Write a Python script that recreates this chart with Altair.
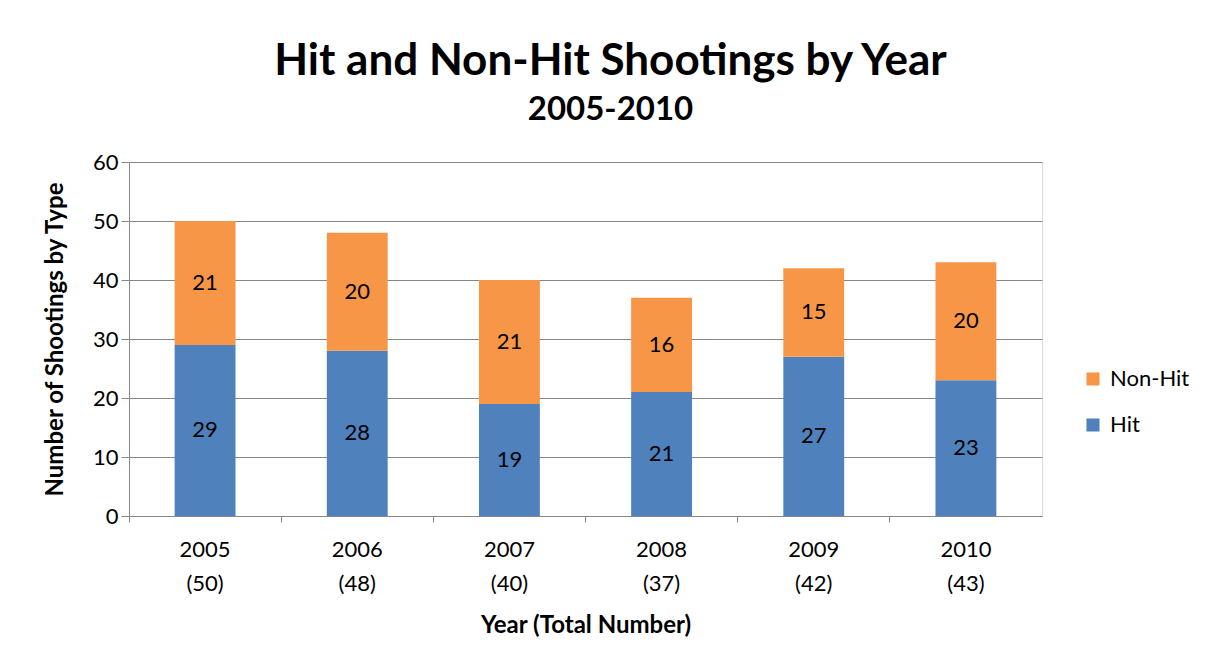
import altair as alt
import pandas as pd

years = ["2005", "2006", "2007", "2008", "2009", "2010"]
totals = [50, 48, 40, 37, 42, 43]
hit = [29, 28, 19, 21, 27, 23]
non_hit = [21, 20, 21, 16, 15, 20]
series = ["Non-Hit", "Hit"]
colors = ["#F79646", "#4F81BD"]

rows = []
for y, t, h, n in zip(years, totals, hit, non_hit):
    lab = f"{y} ({t})"
    rows.append({"year": lab, "type": "Hit", "value": h, "ord": 0})
    rows.append({"year": lab, "type": "Non-Hit", "value": n, "ord": 1})
df = pd.DataFrame(rows)

FONT = "Lato"
x_order = [f"{y} ({t})" for y, t in zip(years, totals)]

base = alt.Chart(df)

xenc = alt.X(
    "year:N",
    sort=x_order,
    scale=alt.Scale(paddingInner=0, paddingOuter=0),
    axis=alt.Axis(
        title="Year (Total Number)",
        labelExpr="split(datum.value, ' ')",
        labelAngle=0,
        bandPosition=0,
        labelFontSize=22,
        labelFont=FONT,
        labelColor="#000000",
        labelPadding=17,
        labelLineHeight=34,
        tickSize=6,
        tickColor="#868686",
        domainColor="#868686",
        titleFontSize=24,
        titleFont=FONT,
        titleFontWeight="bold",
        titleColor="#000000",
        titlePadding=19,
    ),
)

bars = base.mark_bar(width={"band": 0.4}).encode(
    x=xenc,
    y=alt.Y(
        "value:Q",
        stack="zero",
        scale=alt.Scale(domain=[0, 60]),
        axis=alt.Axis(
            title="Number of Shootings by Type",
            values=[0, 10, 20, 30, 40, 50, 60],
            labelFontSize=22,
            labelFont=FONT,
            labelColor="#000000",
            labelPadding=3,
            tickSize=8,
            tickColor="#868686",
            domainColor="#868686",
            gridColor="#868686",
            titleFontSize=24,
            titleFont=FONT,
            titleFontWeight="bold",
            titleColor="#000000",
            titlePadding=25,
        ),
    ),
    color=alt.Color(
        "type:N",
        scale=alt.Scale(domain=series, range=colors),
        legend=alt.Legend(
            title=None,
            orient="none",
            legendX=953,
            legendY=206,
            symbolType="square",
            symbolSize=170,
            symbolStrokeWidth=0,
            labelFontSize=22,
            labelFont=FONT,
            labelColor="#000000",
            rowPadding=24,
            labelOffset=6,
        ),
    ),
    order=alt.Order("ord:Q"),
)

labels = (
    base.transform_window(
        cum="sum(value)", groupby=["year"], sort=[alt.SortField("ord")], frame=[None, 0]
    )
    .transform_calculate(mid="datum.cum - datum.value / 2")
    .mark_text(fontSize=22, font=FONT, color="#000000", baseline="middle")
    .encode(x=alt.X("year:N", sort=x_order, bandPosition=0.5), y="mid:Q", text="value:Q")
)

chart = (
    alt.layer(bars, labels)
    .properties(
        width=913,
        height=354,
        title=alt.Title(
            "Hit and Non-Hit Shootings by Year",
            subtitle="2005-2010",
            fontSize=44,
            subtitleFontSize=33,
            font=FONT,
            subtitleFont=FONT,
            fontWeight="bold",
            subtitleFontWeight="bold",
            color="#000000",
            subtitleColor="#000000",
            anchor="middle",
            dx=25,
            offset=24,
            subtitlePadding=10,
        ),
        autosize=alt.AutoSizeParams(type="none"),
        padding={"left": 121, "top": 154, "right": 160, "bottom": 150},
    )
    .configure_view(stroke=None)
    .configure(background="white")
)

chart.save("out.html", embed_options={"renderer": "svg", "actions": False})
